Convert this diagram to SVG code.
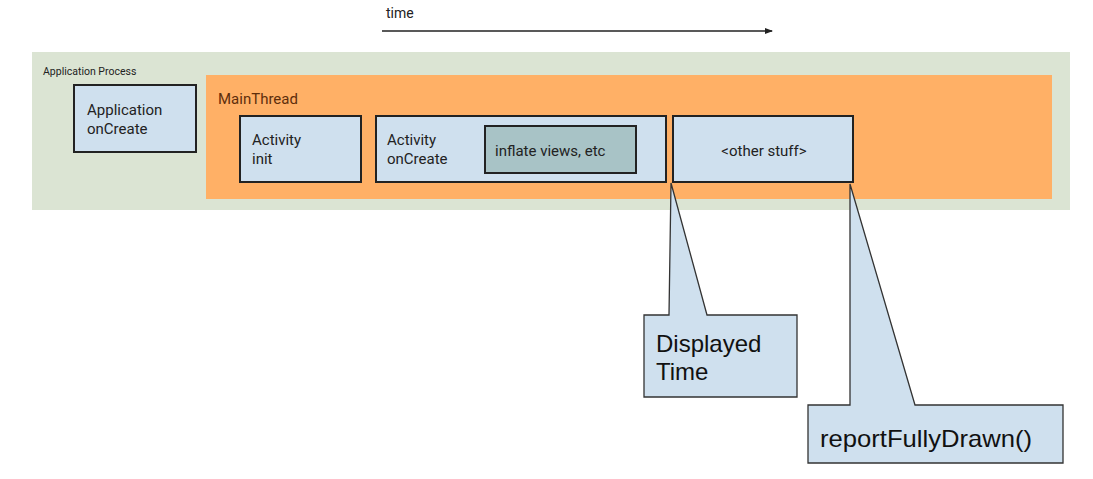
<svg xmlns="http://www.w3.org/2000/svg" width="1093" height="479" viewBox="0 0 1093 479">
<defs>
<marker id="arr" markerWidth="8" markerHeight="8" refX="7" refY="4" orient="auto" markerUnits="userSpaceOnUse">
<path d="M0,1 L8,4 L0,7 Z" fill="#222"/>
</marker>
<style>
.box{fill:#cfe0ee;stroke:#222;stroke-width:2}
.lbl{font-family:Roboto,"Liberation Sans",sans-serif;font-size:15px;fill:#222}
.call{fill:#cfe0ee;stroke:#333;stroke-width:1.3}
.ct{font-family:"Liberation Sans",Arial,sans-serif;font-size:24px;fill:#111}
</style>
</defs>
<rect width="1093" height="479" fill="#ffffff"/>
<g id="time">
<text x="386" y="18" font-family="Roboto,'Liberation Sans',sans-serif" font-size="14" fill="#222">time</text>
</g>
<g id="application-process">
<rect x="32" y="52" width="1038" height="158" fill="#dbe4d3"/>
<text x="43" y="75" font-family="Roboto,'Liberation Sans',sans-serif" font-size="10.5" fill="#222">Application Process</text>
</g>
<g id="app-oncreate">
<rect class="box" x="74" y="85" width="122" height="67"/>
<text class="lbl" x="87" y="115">Application</text>
<text class="lbl" x="87" y="134">onCreate</text>
</g>
<g id="main-thread">
<rect x="206" y="75" width="846" height="124" fill="#ffb066"/>
<text x="218" y="104" font-family="Roboto,'Liberation Sans',sans-serif" font-size="15" fill="#5e2e0c">MainThread</text>
</g>
<g id="activity-init">
<rect class="box" x="240" y="116" width="121" height="66"/>
<text class="lbl" x="252" y="145">Activity</text>
<text class="lbl" x="252" y="164">init</text>
</g>
<g id="activity-oncreate">
<rect class="box" x="376" y="116" width="290" height="66"/>
<text class="lbl" x="387" y="145">Activity</text>
<text class="lbl" x="387" y="164">onCreate</text>
</g>
<g id="inflate-views">
<rect x="485" y="126" width="151" height="47" fill="#a8c3c6" stroke="#222" stroke-width="2"/>
<text x="495" y="156" font-family="Roboto,'Liberation Sans',sans-serif" font-size="15" fill="#222">inflate views, etc</text>
</g>
<g id="other-stuff">
<rect class="box" x="673" y="116" width="180" height="66"/>
<text x="764" y="156" text-anchor="middle" font-family="Roboto,'Liberation Sans',sans-serif" font-size="15" fill="#222">&lt;other stuff&gt;</text>
</g>
<g id="displayed-time">
<polygon class="call" points="644,315 669,315 671,183 707,315 797,315 797,397 644,397"/>
<text class="ct" x="656" y="352">Displayed</text>
<text class="ct" x="656" y="380">Time</text>
</g>
<g id="report-fully-drawn">
<polygon class="call" points="808,405 850,405 850,184 915,405 1063,405 1063,463 808,463"/>
<text class="ct" x="820" y="447" font-size="26" textLength="212" lengthAdjust="spacingAndGlyphs">reportFullyDrawn()</text>
</g>
<g id="connectors">
<line x1="382" y1="31" x2="772" y2="31" stroke="#222" stroke-width="1.5" marker-end="url(#arr)"/>
</g>
</svg>
